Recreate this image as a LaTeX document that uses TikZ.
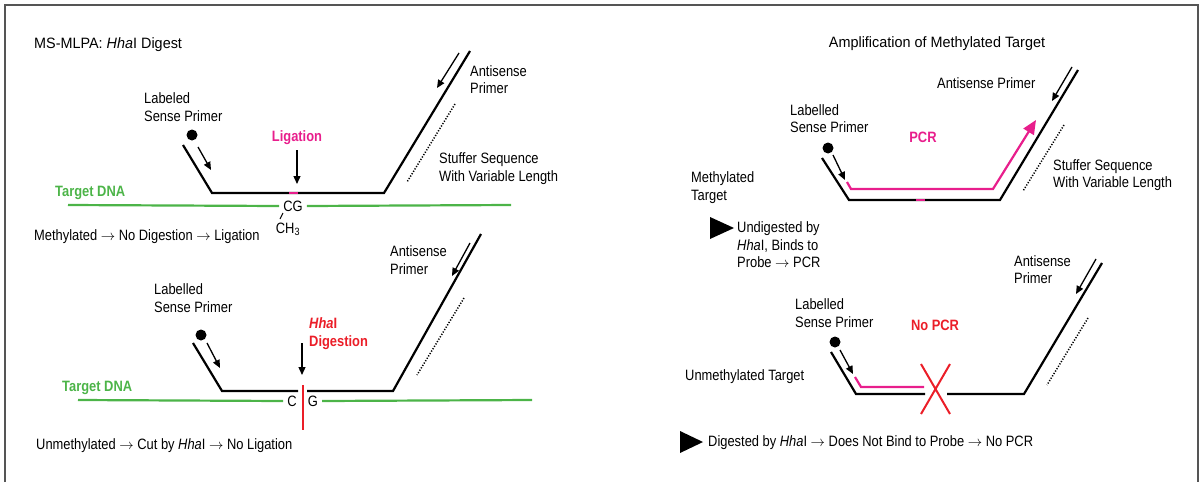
\documentclass[tikz,border=0pt]{standalone}
\usepackage{fontspec}
\setmainfont{Liberation Sans}[FakeStretch=0.86]
\newfontfamily\titlefont{Liberation Sans}[FakeStretch=0.96]
\usetikzlibrary{arrows.meta}
\definecolor{dnagreen}{RGB}{76,180,72}
\definecolor{ligpink}{RGB}{232,30,140}
\definecolor{cutred}{RGB}{235,30,40}
\definecolor{framegray}{RGB}{85,85,85}
\tikzset{
	strand/.style={line width=2.2pt,black},
	target/.style={line width=2.2pt,dnagreen},
	pcr/.style={line width=2.2pt,ligpink},
	dir/.style={line width=1.3pt,-{Triangle[length=8pt,width=7pt]}},
	stuffer/.style={line width=1.5pt,dash pattern=on 1.2pt off 1.6pt},
	lbl/.style={anchor=west,align=left,inner sep=0pt,font=\fontsize{15}{17.5}\selectfont},
	bold/.style={lbl,font=\fontsize{15}{17.5}\selectfont\bfseries},
	heading/.style={lbl,font=\fontsize{15}{17.5}\titlefont}
}
\begin{document}
\begin{tikzpicture}[x=1pt,y=-1pt]
	\useasboundingbox (0,0) rectangle (1199,482);
	\draw[framegray,line width=2pt] (5,482) -- (5,5) -- (1198,5) -- (1198,482);
	% methylated, ligation
	\node[heading] (title1) at (34,45) {MS-MLPA: \textit{Hha}I Digest};
	\node[lbl] (sense1) at (144,107) {Labeled\\Sense Primer};
	\node[lbl] (anti1) at (470,79.5) {Antisense\\Primer};
	\node[lbl] (stuf1) at (439,168.5) {Stuffer Sequence\\With Variable Length};
	\node[bold,text=dnagreen] (tdna1) at (55,193) {Target DNA};
	\node[bold,text=ligpink,anchor=center] (lig) at (297,138) {Ligation};
	\node[lbl,anchor=center,inner sep=4pt] (cg1) at (293,206) {CG};
	\node[lbl,anchor=center] (ch3) at (288,229) {CH\textsubscript{3}};
	\node[lbl] (meth1) at (34,237) {Methylated $\rightarrow$ No Digestion $\rightarrow$ Ligation};
	\fill (192,135) circle (5.5);
	\draw[strand] (183,145) -- (212,193) -- (384,193) -- (470,51);
	\draw[pcr] (289,193) -- (298,193);
	\draw[dir] (198,147) -- (211,170);
	\draw[dir] (459,53) -- (437,88);
	\draw[dir] (lig.south |- 0,150) -- (lig.south |- 0,184);
	\draw[stuffer] (455,104) -- (407,182);
	\draw[target] (68,205) -- (cg1.west);
	\draw[target] (cg1.east) -- (511,205);
	\draw[line width=1pt] (283,213) -- (280,219);
	% unmethylated, cut
	\node[lbl] (sense2) at (154,298) {Labelled\\Sense Primer};
	\node[lbl] (anti2) at (390,260) {Antisense\\Primer};
	\node[bold,text=cutred] (dig) at (309,333.5) {\textit{Hha}I\\Digestion};
	\node[bold,text=dnagreen] (tdna2) at (62,388) {Target DNA};
	\node[lbl,anchor=center,inner sep=4pt] (c2) at (292,401) {C};
	\node[lbl,anchor=center,inner sep=4pt] (g2) at (313,401) {G};
	\node[lbl] (unmeth1) at (36,446) {Unmethylated $\rightarrow$ Cut by \textit{Hha}I $\rightarrow$ No Ligation};
	\fill (201,335) circle (5.5);
	\draw[strand] (193,343) -- (222,391) -- (298,391);
	\draw[strand] (307,391) -- (393,391) -- (481,234);
	\draw[dir] (207,343) -- (220,368);
	\draw[dir] (470,243) -- (452,276);
	\draw[dir] (302,343) -- (302,375);
	\draw[line width=2.2pt,cutred] (303,385) -- (303,430);
	\draw[stuffer] (464,298) -- (417,375);
	\draw[target] (78,400) -- (c2.west);
	\draw[target] (g2.east) -- (532,400);
	% amplification, methylated
	\node[heading,anchor=center] (title2) at (937,44) {Amplification of Methylated Target};
	\node[lbl] (anti3) at (937,83) {Antisense Primer};
	\node[lbl] (sense3) at (790,118.5) {Labelled\\Sense Primer};
	\node[bold,text=ligpink,anchor=center] (pcr) at (923,137) {PCR};
	\node[lbl] (stuf3) at (1053,175) {Stuffer Sequence\\With Variable Length};
	\node[lbl] (meth3) at (691,187.5) {Methylated\\Target};
	\node[lbl] (undig) at (737,245) {Undigested by\\\textit{Hha}I, Binds to\\Probe $\rightarrow$ PCR};
	\fill (828,148) circle (5.5);
	\draw[strand] (822,158) -- (849,200) -- (1000,200) -- (1078,70);
	\draw[pcr] (916,200) -- (925,200);
	\draw[pcr,-{Triangle[length=14pt,width=12pt]}] (847,182) -- (851,189) -- (993,189) -- (1036,120);
	\draw[dir] (833,155) -- (845,180);
	\draw[dir] (1072,67) -- (1052,101);
	\draw[stuffer] (1064,125) -- (1023,191);
	\fill (710,217) -- (734,228) -- (710,239) -- cycle;
	% amplification, unmethylated
	\node[lbl] (anti4) at (1014,269.5) {Antisense\\Primer};
	\node[lbl] (sense4) at (795,313) {Labelled\\Sense Primer};
	\node[bold,text=cutred,anchor=center] (nopcr) at (935,325) {No PCR};
	\node[lbl] (unmeth4) at (685,377) {Unmethylated Target};
	\node[lbl] (dig4) at (708,443) {Digested by \textit{Hha}I $\rightarrow$ Does Not Bind to Probe $\rightarrow$ No PCR};
	\fill (835,342) circle (5.5);
	\draw[strand] (831,352) -- (856,394) -- (925,394);
	\draw[strand] (947,394) -- (1024,394) -- (1102,263);
	\draw[pcr] (855,377) -- (861,387) -- (924,387);
	\draw[dir] (840,350) -- (853,374);
	\draw[dir] (1096,259) -- (1076,294);
	\draw[line width=2pt,cutred] (921,364) -- (950,414) (950,364) -- (921,414);
	\draw[stuffer] (1088,318) -- (1047,385);
	\fill (680,431) -- (703,442) -- (680,453) -- cycle;
\end{tikzpicture}
\end{document}
